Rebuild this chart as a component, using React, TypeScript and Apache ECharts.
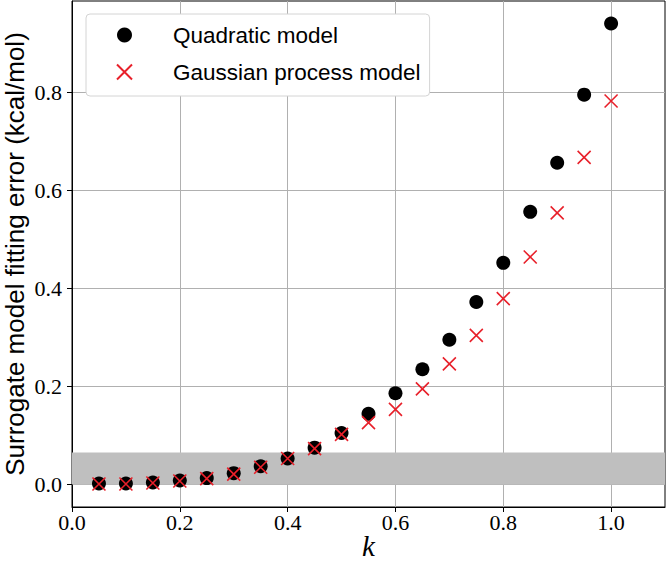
import React, { useEffect, useRef } from "react";
import * as echarts from "echarts";

const kValues = [0.05, 0.1, 0.15, 0.2, 0.25, 0.3, 0.35, 0.4, 0.45, 0.5, 0.55, 0.6, 0.65, 0.7, 0.75, 0.8, 0.85, 0.9, 0.95, 1.0];
const quadraticErr = [0.002, 0.002, 0.004, 0.008, 0.013, 0.023, 0.037, 0.053, 0.075, 0.105, 0.144, 0.186, 0.235, 0.295, 0.372, 0.452, 0.556, 0.656, 0.795, 0.94];
const gpErr = [0.001, 0.001, 0.003, 0.007, 0.012, 0.021, 0.035, 0.053, 0.073, 0.102, 0.126, 0.153, 0.195, 0.246, 0.304, 0.379, 0.464, 0.554, 0.667, 0.782];
const xTicks = [0, 0.2, 0.4, 0.6, 0.8, 1.0];
const yTicks = [0, 0.2, 0.4, 0.6, 0.8];
const bandRange = [0, 0.065];
const seriesNames = ["Quadratic model", "Gaussian process model"];

const RED = "#e8202a";
const CROSS = "path://M0,0L10,10M10,0L0,10";

export default function App() {
  const ref = useRef<HTMLDivElement>(null);
  useEffect(() => {
    if (!ref.current) return;
    const chart = echarts.init(ref.current, undefined, { renderer: "svg" });
    const serif = "'Liberation Serif', 'DejaVu Serif', serif";
    const sans = "'Liberation Sans', 'DejaVu Sans', sans-serif";
    chart.setOption({
      animation: false,
      backgroundColor: "#ffffff",
      grid: {
        left: 72,
        right: 1,
        top: 1,
        bottom: 56,
        containLabel: false,
        outerBoundsMode: "none",
        show: true,
        borderColor: "#000",
        borderWidth: 1,
        backgroundColor: "transparent",
      },
      legend: {
        data: [
          { name: seriesNames[0], icon: "circle" },
          { name: seriesNames[1], icon: CROSS },
        ],
        left: 86,
        top: 14,
        orient: "vertical",
        itemWidth: 15,
        itemHeight: 15,
        itemGap: 11,
        padding: [8, 9, 11, 30],
        backgroundColor: "#ffffff",
        borderColor: "#d4d4d4",
        borderWidth: 1,
        borderRadius: 4,
        textStyle: {
          fontFamily: sans,
          fontSize: 22.5,
          color: "#000",
          lineHeight: 26,
          padding: [0, 0, 0, 36],
        },
      },
      xAxis: {
        type: "value",
        min: 0,
        max: 1.1,
        interval: 0.2,
        name: "k",
        nameLocation: "middle",
        nameGap: 24,
        nameMoveOverlap: false,
        nameTextStyle: { fontFamily: serif, fontStyle: "italic", fontSize: 29, color: "#000", lineHeight: 30 },
        axisLine: { show: true, onZero: false, lineStyle: { color: "#000", width: 1 } },
        axisTick: { show: true, length: 5, customValues: xTicks, lineStyle: { color: "#000" } },
        axisLabel: {
          customValues: xTicks,
          fontFamily: serif,
          fontSize: 22,
          color: "#000",
          margin: 4,
          formatter: (v: number) => v.toFixed(1),
        },
        splitLine: { show: true, lineStyle: { color: "#b0b0b0", width: 1 } },
      },
      yAxis: {
        type: "value",
        min: -0.046,
        max: 0.986,
        splitNumber: 5,
        name: "Surrogate model fitting error (kcal/mol)",
        nameLocation: "middle",
        nameGap: 43,
        nameMoveOverlap: false,
        nameTextStyle: { fontFamily: sans, fontSize: 26, color: "#000", lineHeight: 28 },
        axisLine: { show: true, onZero: false, lineStyle: { color: "#000", width: 1 } },
        axisTick: { show: true, length: 5, customValues: yTicks, lineStyle: { color: "#000" } },
        axisLabel: {
          customValues: yTicks,
          fontFamily: serif,
          fontSize: 22,
          color: "#000",
          margin: 10,
          formatter: (v: number) => v.toFixed(1),
        },
        splitLine: { show: true, lineStyle: { color: "#b0b0b0", width: 1 } },
      },
      series: [
        {
          name: seriesNames[0],
          type: "scatter",
          symbol: "circle",
          symbolSize: 14,
          itemStyle: { color: "#000", opacity: 1 },
          data: kValues.map((k, i) => [k, quadraticErr[i]]),
          z: 3,
          markArea: {
            silent: true,
            itemStyle: { color: "#bfbfbf", opacity: 1 },
            data: [[{ yAxis: bandRange[0] }, { yAxis: bandRange[1] }]],
            z: 1,
          },
        },
        {
          name: seriesNames[1],
          type: "scatter",
          symbol: CROSS,
          symbolSize: 13,
          itemStyle: { color: "rgba(0,0,0,0)", borderColor: RED, borderWidth: 1.6, opacity: 1 },
          data: kValues.map((k, i) => [k, gpErr[i]]),
          z: 4,
        },
      ],
    });
    return () => chart.dispose();
  }, []);
  return <div ref={ref} style={{ position: "absolute", left: 0, top: 0, width: 666, height: 563 }} />;
}
